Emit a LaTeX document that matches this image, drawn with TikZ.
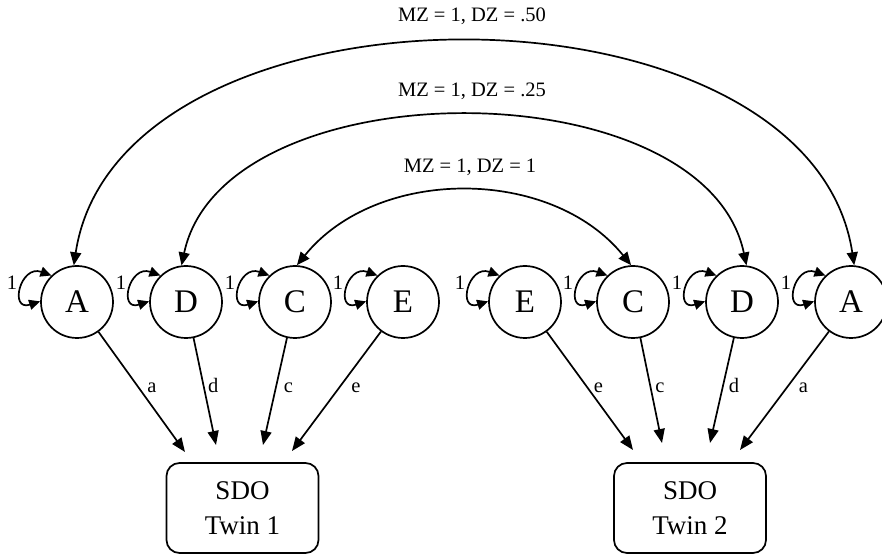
\documentclass[tikz,border=0pt]{standalone}
\usepackage{fontspec}
\setmainfont{Liberation Serif}
\usetikzlibrary{arrows.meta}
\begin{document}
\begin{tikzpicture}[x=1pt,y=1pt,
  lat/.style={circle, draw, line width=1.7pt, minimum size=72pt, inner sep=0pt,
    font=\fontsize{33}{40}\selectfont},
  obs/.style={draw, rounded corners=13pt, line width=1.7pt, minimum width=152pt,
    minimum height=90pt, inner sep=0pt, align=center, font=\fontsize{27}{35}\selectfont},
  onearrow/.style={-{Triangle[length=14pt,width=11pt]}, line width=1.7pt},
  twoarrow/.style={{Triangle[length=13pt,width=11pt]}-{Triangle[length=13pt,width=11pt]}, line width=1.7pt},
  looparrow/.style={{Triangle[length=11pt,width=10pt]}-{Triangle[length=11pt,width=10pt]}, line width=1.7pt},
  lbl/.style={font=\fontsize{20.5}{24}\selectfont, inner sep=0pt, anchor=base},
]
\useasboundingbox (0,0) rectangle (882,554);

% latent variables
\node[lat] (A1) at (77,252) {A};
\node[lat] (D1) at (186,252) {D};
\node[lat] (C1) at (295,252) {C};
\node[lat] (E1) at (403,252) {E};
\node[lat] (E2) at (525,252) {E};
\node[lat] (C2) at (633,252) {C};
\node[lat] (D2) at (742,252) {D};
\node[lat] (A2) at (851,252) {A};

% observed
\node[obs] (B1) at (242.5,46) {SDO\\Twin 1};
\node[obs] (B2) at (690,46) {SDO\\Twin 2};

% self loops (variances)
\foreach \n in {A1,D1,C1,E1,E2,C2,D2,A2}{
  \draw[looparrow] (\n.134) to[out=160,in=198,looseness=3.0] (\n.179);
  \node[lbl] (one\n) at ([xshift=-65pt,yshift=12.5pt]\n.center) {1};
}

% correlations between twins
\draw[twoarrow] (A1.95) .. controls +(45,297) and +(-45,297) .. (A2.85);
\draw[twoarrow] (D1.97) .. controls +(42,199) and +(-42,199) .. (D2.83);
\draw[twoarrow] (C1.87) .. controls +(80,99) and +(-80,99) .. (C2.93);

\node[lbl] (t50) at (472,532.5) {MZ = 1, DZ = .50};
\node[lbl] (t25) at (472,457.3) {MZ = 1, DZ = .25};
\node[lbl] (t1) at (470,381.7) {MZ = 1, DZ = 1};

% arrow end points above the boxes
\coordinate (pA1) at (185,102);
\coordinate (pD1) at (216,109);
\coordinate (pC1) at (263,109);
\coordinate (pE1) at (292,103);
\coordinate (pE2) at (633,104);
\coordinate (pC2) at (662,111);
\coordinate (pD2) at (710,111);
\coordinate (pA2) at (740,104);

\draw[onearrow] (A1) -- (pA1);
\draw[onearrow] (D1) -- (pD1);
\draw[onearrow] (C1) -- (pC1);
\draw[onearrow] (E1) -- (pE1);
\draw[onearrow] (E2) -- (pE2);
\draw[onearrow] (C2) -- (pC2);
\draw[onearrow] (D2) -- (pD2);
\draw[onearrow] (A2) -- (pA2);

% path labels
\node[lbl] (la1) at (152,161.3) {a};
\node[lbl] (ld1) at (213.3,161.3) {d};
\node[lbl] (lc1) at (288.3,161.3) {c};
\node[lbl] (le1) at (356,161.3) {e};
\node[lbl] (le2) at (598.3,161.3) {e};
\node[lbl] (lc2) at (660,161.3) {c};
\node[lbl] (ld2) at (734,161.3) {d};
\node[lbl] (la2) at (803.3,161.3) {a};
\end{tikzpicture}
\end{document}
